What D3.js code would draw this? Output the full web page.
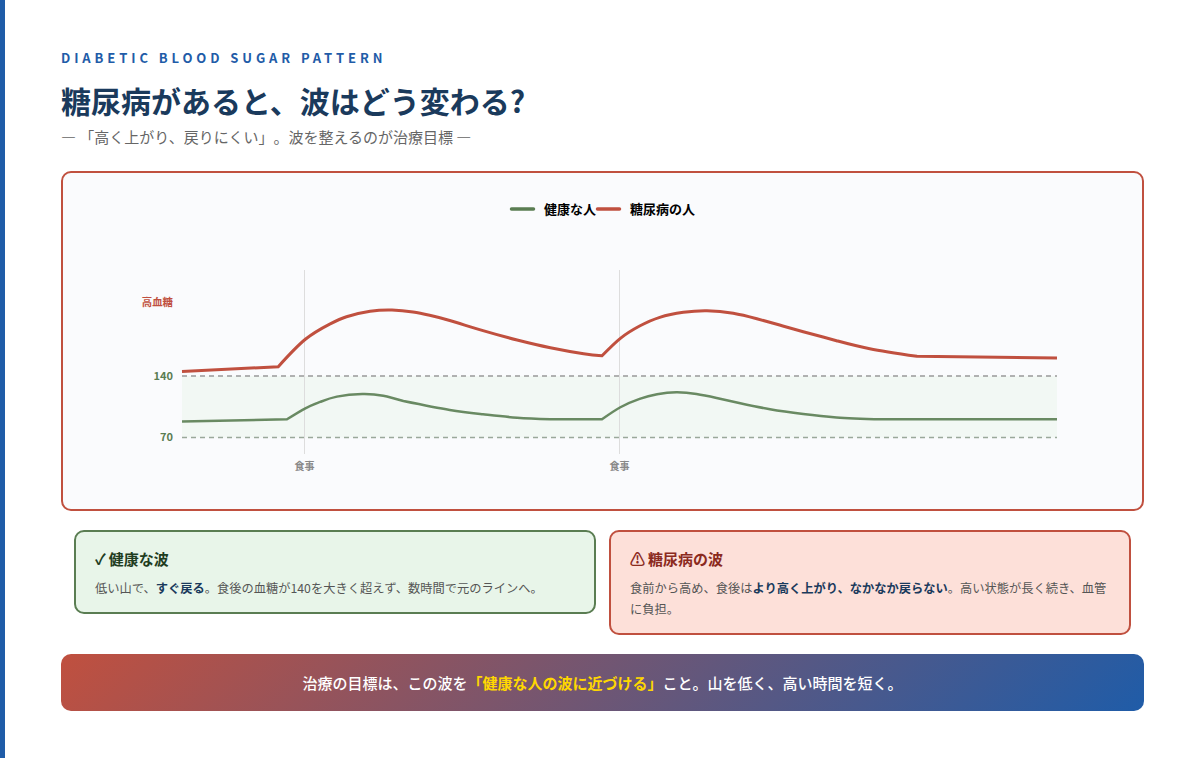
<!DOCTYPE html>
<html>
<head>
<meta charset="utf-8" />
<script src="https://d3js.org/d3.v7.min.js"></script>
<style>
  html, body { margin: 0; padding: 0; background: #fff; }
  body { width: 1200px; height: 758px; position: relative; overflow: hidden; font-family: "Noto Sans CJK JP", "Noto Sans", sans-serif; text-spacing-trim: space-all; }
  .abs { position: absolute; white-space: nowrap; }
  #bar { left: 0; top: 0; width: 5px; height: 758px; background: #1f5ca8; }
  #kicker { left: 61px; top: 48px; font-size: 13px; line-height: 20px; font-weight: 700; letter-spacing: 3.9px; color: #1f5ca8; }
  #title { left: 61px; top: 76px; font-size: 30px; line-height: 48px; font-weight: 700; color: #1a3a5c; }
  #subtitle { left: 61px; top: 125px; font-size: 15px; line-height: 24px; color: #666; }
  #chartCard { position: absolute; left: 61px; top: 171px; width: 1079px; height: 336px; border: 2px solid #c0503f; border-radius: 10px; background: #fafbfd; }
  #chartCard svg { position: absolute; left: -2px; top: -2px; }
  .card { position: absolute; box-sizing: border-box; border: 2px solid; border-radius: 10px; padding: 16px 19px; }
  .card h3 { margin: 0; font-size: 15px; line-height: 22px; font-weight: 700; }
  .card h3 span { margin-right: -0.5px; }
  .card p { margin: 8px 0 0; font-size: 12.25px; line-height: 21px; color: #555; }
  .card strong { color: #1a3a5c; font-weight: 700; }
  #banner { position: absolute; left: 61px; top: 654px; width: 1083px; height: 57px; border-radius: 10px; background: linear-gradient(135deg, #c0503f, #1f5ca8); color: #fff; font-size: 15px; line-height: 57px; font-weight: 500; text-align: center; text-spacing-trim: normal; }
  #banner strong { color: #ffd700; font-weight: 700; }
  .axis path { display: none; }
</style>
</head>
<body>
<div id="bar" class="abs"></div>
<div id="kicker" class="abs">DIABETIC BLOOD SUGAR PATTERN</div>
<div id="title" class="abs">糖尿病があると、波はどう変わる?</div>
<div id="subtitle" class="abs">― 「高く上がり、戻りにくい」。波を整えるのが治療目標 ―</div>
<div id="chartCard"></div>

<div class="card" style="left:74px;top:530px;width:522px;height:84px;border-color:#5a7d52;background:#e8f5e9;">
  <h3 style="color:#1f3d1f;"><span>✓</span> 健康な波</h3>
  <p>低い山で、<strong>すぐ戻る</strong>。食後の血糖が140を大きく超えず、数時間で元のラインへ。</p>
</div>
<div class="card" style="left:609px;top:530px;width:522px;height:105px;border-color:#c0503f;background:#fde0d9;">
  <h3 style="color:#8b2a1e;"><span>⚠</span> 糖尿病の波</h3>
  <p>食前から高め、食後は<strong>より高く上がり、なかなか戻らない</strong>。高い状態が長く続き、血管<br>に負担。</p>
</div>
<div id="banner">治療の目標は、この波を<strong>「健康な人の波に近づける」</strong>こと。山を低く、高い時間を短く。</div>

<script>
// hours on the (unlabelled) time axis, glucose in mg/dL
var healthyHours = [0, 1.2, 1.41, 1.58, 1.77, 2.06, 2.3, 2.53, 3.06, 3.44, 3.83, 4.21, 4.8, 5.01, 5.23, 5.43, 5.65, 5.88, 6.11, 6.38, 6.72, 7.1, 7.48, 8, 10]
var healthyValues = [88.2, 90.7, 103.2, 110.5, 116.5, 119.5, 117.5, 111.5, 101.3, 96.4, 92.5, 90.7, 90.7, 104.4, 114, 119.2, 121.4, 119.5, 115, 109, 102.2, 96.7, 92.9, 90.7, 90.7]
var healthyCorners = [1.2, 2.53, 4.21, 4.8, 6.11, 8]
var diabeticHours = [0, 1.1, 1.41, 1.69, 1.88, 2.15, 2.4, 2.64, 2.83, 3.06, 3.44, 3.83, 4.21, 4.59, 4.8, 5.01, 5.23, 5.46, 5.73, 6, 6.3, 6.57, 6.83, 7.1, 7.48, 7.86, 8.4, 10]
var diabeticValues = [145.1, 150.6, 181.8, 199.2, 207.5, 213.6, 215.1, 212.8, 209.1, 203.2, 191.6, 181, 172.2, 165.4, 163, 182.9, 196.9, 206.8, 212.5, 214.3, 211.4, 205.2, 198, 190.4, 180.2, 171.1, 162.4, 160.5]
var diabeticCorners = [1.1, 2.83, 4.8, 6.57, 8.4]
var mealHours = [1.4, 5]
var rangeTicks = [70, 140]
var highTick = 224
var seriesNames = ["健康な人", "糖尿病の人"]

var green = "#5a7d52", red = "#c0503f"
var fontName = '"Noto Sans CJK JP", sans-serif'

var width = 1083, height = 340
var svg = d3.select("#chartCard").append("svg").attr("width", width).attr("height", height)

// Scales
var x = d3.scaleLinear().domain([0, 10]).range([121, 996])
var y = d3.scaleLinear().domain([70, 140]).range([266.5, 205])

// Normal range band
svg.append("rect")
  .attr("x", x(0)).attr("y", y(140))
  .attr("width", x(10) - x(0)).attr("height", y(70) - y(140))
  .attr("fill", "#e8f5e9").attr("opacity", 0.45)

// Meal markers, using the axis ticks as the vertical lines
var xAxis = d3.axisBottom(x).tickValues(mealHours).tickFormat(function() { return "食事" }).tickSize(-184).tickPadding(9).offset(0)
var gx = svg.append("g").attr("class", "axis").attr("transform", "translate(0,283)").call(xAxis)
gx.selectAll("line").attr("stroke", "#ddd").attr("stroke-width", 1)
gx.selectAll("text").attr("fill", "#888").style("font-size", "10px").style("font-weight", 700).style("font-family", fontName)

// Range limits
svg.selectAll(".limit").data(rangeTicks).enter().append("line")
  .attr("class", "limit")
  .attr("x1", x(0)).attr("x2", x(10))
  .attr("y1", d => y(d)).attr("y2", d => y(d))
  .attr("stroke", d => d == 140 ? "#999" : "#9aa89a").attr("stroke-width", 1.5).attr("stroke-dasharray", "5 4")

var yAxis = d3.axisLeft(y).tickValues(rangeTicks).tickSize(0).tickPadding(9).offset(0)
var gy = svg.append("g").attr("class", "axis").attr("transform", "translate(121,0)").call(yAxis)
gy.selectAll("text").attr("fill", green).style("font-size", "11px").style("font-weight", 700).style("font-family", fontName)

svg.append("text")
  .attr("x", 112).attr("y", y(highTick)).attr("dy", "0.32em")
  .attr("text-anchor", "end").attr("fill", red)
  .style("font-size", "10.4px").style("font-weight", 700)
  .text("高血糖")

// Curves: smooth between the corners where the picture breaks direction
var line = d3.line().x(d => x(d[0])).y(d => y(d[1])).curve(d3.curveNatural)

function wave(hours, values, corners) {
  var points = d3.zip(hours, values)
  var parts = [], start = 0
  corners.concat([hours[hours.length - 1]]).forEach(function(c) {
    var end = hours.indexOf(c)
    parts.push(line(points.slice(start, end + 1)))
    start = end
  })
  return parts.join("").replace(/M/g, "L").replace("L", "M")
}

svg.append("path")
  .attr("fill", "none").attr("stroke", green).attr("stroke-width", 2.5).attr("opacity", 0.9)
  .attr("d", wave(healthyHours, healthyValues, healthyCorners))
svg.append("path")
  .attr("fill", "none").attr("stroke", red).attr("stroke-width", 3)
  .attr("d", wave(diabeticHours, diabeticValues, diabeticCorners))

// Legend
var legendX = [449, 535]
var legend = svg.selectAll(".legend").data(seriesNames).enter().append("g")
  .attr("class", "legend")
  .attr("transform", (d, i) => "translate(" + legendX[i] + ",38)")
legend.append("line").attr("x1", 1.5).attr("x2", 23.5)
  .attr("stroke", (d, i) => i == 0 ? green : red)
  .attr("stroke-width", 3.5).attr("stroke-linecap", "round")
legend.append("text").attr("x", 34).attr("dy", "0.38em")
  .attr("fill", "#000").style("font-size", "13px").style("font-weight", 700)
  .text(d => d)
</script>
</body>
</html>
